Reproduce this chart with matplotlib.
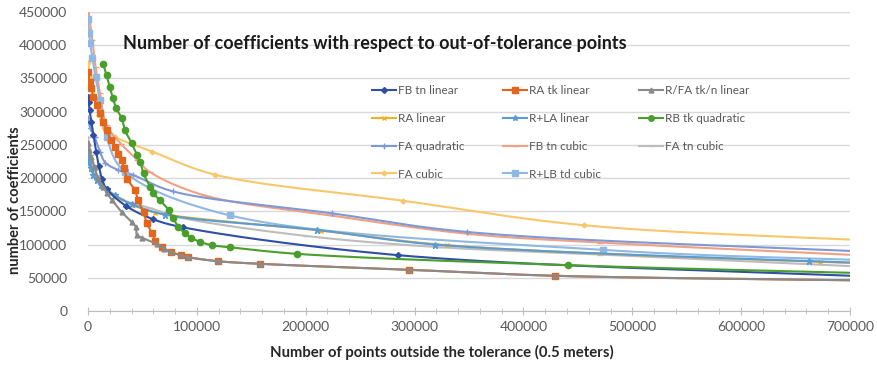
import numpy as np
import matplotlib.pyplot as plt
from matplotlib.lines import Line2D
from matplotlib.ticker import MultipleLocator

plt.rcParams['font.family'] = ['Lato', 'DejaVu Sans']

# points outside tolerance (x) and number of coefficients (y) for each run
fb_tn_lin_x = [0, 500, 1500, 3000, 5000, 7500, 10000, 13000, 17000, 35000, 60000, 87000, 285000, 760000]
fb_tn_lin_y = [322000, 315000, 302000, 285000, 265000, 240000, 218000, 198000, 184000, 158000, 138000, 126000, 84000, 49000]

ra_tk_lin_x = [0, 1500, 3000, 5000, 8000, 11000, 14000, 17000, 21000, 25000, 28000, 31000, 33000, 36000,
               43000, 46000, 51000, 54000, 59000, 62000, 68000, 76000, 85000, 92000, 119000, 158000,
               295000, 429000, 760000]
ra_tk_lin_y = [360000, 345000, 335000, 322000, 310000, 298000, 285000, 272000, 258000, 247000, 236000,
               227000, 215000, 199000, 182000, 167000, 149000, 132000, 117000, 105000, 96000, 89000,
               84000, 81000, 75000, 71000, 62000, 53000, 45000]

rfa_lin_x = [0, 1000, 3000, 6000, 9000, 14000, 17000, 22000, 31000, 40000, 44000, 45000, 50000, 63000,
             70000, 76000, 85000, 92000, 119000, 158000, 295000, 429000, 760000]
rfa_lin_y = [253000, 243000, 232000, 217000, 200000, 187000, 178000, 167000, 149000, 134000, 126000,
             114000, 110000, 101000, 94000, 89000, 84000, 81000, 75000, 71000, 62000, 53000, 45000]

ra_lin_x = [0, 1500, 3500, 6000, 9000, 13000, 17000, 26000, 42000, 62000, 214000, 330000, 672000, 760000]
ra_lin_y = [228000, 221000, 212000, 203000, 195000, 188000, 182000, 172000, 159000, 148000, 121000, 99000, 74000, 70000]

rla_lin_x = [0, 1000, 2500, 5000, 8000, 12000, 17000, 25000, 40000, 71000, 210000, 319000, 662000, 760000]
rla_lin_y = [233000, 225000, 215000, 205000, 197000, 189000, 183000, 174000, 161000, 145000, 122000, 100000, 75000, 70000]

rb_quad_x = [14000, 17000, 20000, 23000, 26000, 31000, 34000, 40000, 45000, 48000, 51000, 57000, 60000,
             66000, 74000, 78000, 83000, 89000, 95000, 103000, 114000, 130000, 192000, 441000, 760000]
rb_quad_y = [372000, 355000, 337000, 320000, 305000, 290000, 272000, 253000, 235000, 224000, 207000,
             187000, 177000, 167000, 152000, 140000, 127000, 117000, 110000, 104000, 99000, 96000,
             86000, 69000, 55000]

fa_quad_x = [0, 2000, 6000, 11000, 16000, 28000, 41000, 78000, 224000, 348000, 760000]
fa_quad_y = [290000, 276000, 262000, 240000, 223000, 212000, 205000, 180000, 147000, 119000, 86000]

fb_tn_cub_x = [0, 4000, 7000, 11000, 17000, 30000, 45000, 57000, 107000, 222000, 350000, 470000, 760000]
fb_tn_cub_y = [458000, 408000, 367000, 328000, 280000, 252000, 228000, 209000, 174000, 144000, 116000, 103000, 80000]

fa_tn_cub_x = [0, 3000, 8000, 15000, 30000, 57000, 84000, 200000, 323000, 470000, 760000]
fa_tn_cub_y = [262000, 235000, 205000, 185000, 168000, 155000, 141000, 113000, 96000, 85000, 63000]

fa_cub_x = [0, 3000, 6000, 10000, 15000, 25000, 59000, 117000, 289000, 456000, 760000]
fa_cub_y = [373000, 350000, 322000, 295000, 275000, 262000, 240000, 205000, 166000, 129000, 103000]

rlb_cub_x = [0, 1000, 2000, 4000, 7000, 11000, 17000, 34000, 130000, 473000, 760000]
rlb_cub_y = [440000, 418000, 403000, 381000, 352000, 318000, 262000, 209000, 144000, 92000, 74000]

XMAX, YMAX = 700000, 450000


def smooth(x, y, n=30):
    # centripetal Catmull-Rom through the points, like a spreadsheet "smoothed line"
    p = np.column_stack([np.asarray(x, float) / XMAX * 2.1, np.asarray(y, float) / YMAX])
    p = np.vstack([2 * p[0] - p[1], p, 2 * p[-1] - p[-2]])
    out = [p[1]]
    for i in range(1, len(p) - 2):
        p0, p1, p2, p3 = p[i - 1], p[i], p[i + 1], p[i + 2]
        t0 = 0.0
        t1 = t0 + max(np.linalg.norm(p1 - p0), 1e-9) ** 0.5
        t2 = t1 + max(np.linalg.norm(p2 - p1), 1e-9) ** 0.5
        t3 = t2 + max(np.linalg.norm(p3 - p2), 1e-9) ** 0.5
        t = np.linspace(t1, t2, n)[1:, None]
        a1 = (t1 - t) / (t1 - t0) * p0 + (t - t0) / (t1 - t0) * p1
        a2 = (t2 - t) / (t2 - t1) * p1 + (t - t1) / (t2 - t1) * p2
        a3 = (t3 - t) / (t3 - t2) * p2 + (t - t2) / (t3 - t2) * p3
        b1 = (t2 - t) / (t2 - t0) * a1 + (t - t0) / (t2 - t0) * a2
        b2 = (t3 - t) / (t3 - t1) * a2 + (t - t1) / (t3 - t1) * a3
        c = (t2 - t) / (t2 - t1) * b1 + (t - t1) / (t2 - t1) * b2
        out.extend(c)
    out = np.array(out)
    return out[:, 0] * XMAX / 2.1, out[:, 1] * YMAX


series = [
    ('FB tn linear', fb_tn_lin_x, fb_tn_lin_y, '#2f4fa5', 'D', 3.0),
    ('RA linear', ra_lin_x, ra_lin_y, '#f2b01e', 'x', 3.5),
    ('FA quadratic', fa_quad_x, fa_quad_y, '#7f99d6', '+', 5.0),
    ('FA cubic', fa_cub_x, fa_cub_y, '#f9c76a', 'D', 2.5),
    ('RA tk linear', ra_tk_lin_x, ra_tk_lin_y, '#e2661e', 's', 5.0),
    ('R+LA linear', rla_lin_x, rla_lin_y, '#5b9bd5', '*', 4.5),
    ('FB tn cubic', fb_tn_cub_x, fb_tn_cub_y, '#f2a083', '_', 4.0),
    ('R+LB td cubic', rlb_cub_x, rlb_cub_y, '#8fb8e3', 's', 5.0),
    ('R/FA tk/n linear', rfa_lin_x, rfa_lin_y, '#8a8a8a', '^', 3.5),
    ('RB tk quadratic', rb_quad_x, rb_quad_y, '#4a9e2c', 'o', 4.5),
    ('FA tn cubic', fa_tn_cub_x, fa_tn_cub_y, '#bdbdbd', '_', 4.0),
]

# drawing order (later on top)
draw_order = ['FA tn cubic', 'FA cubic', 'FB tn cubic', 'FA quadratic', 'R+LB td cubic', 'RA linear',
              'R+LA linear', 'FB tn linear', 'RB tk quadratic', 'RA tk linear', 'R/FA tk/n linear']

fig = plt.figure(figsize=(8.78, 3.65), dpi=100)
ax = fig.add_axes([88 / 878, 1 - 311 / 365, 762 / 878, 299 / 365])

lookup = {s[0]: s for s in series}
for z, name in enumerate(draw_order):
    _, x, y, col, mk, ms = lookup[name]
    sx, sy = smooth(x, y)
    ax.plot(sx, sy, color=col, lw=1.5, zorder=3 + z, solid_capstyle='round')
    ax.plot(x, y, ls='none', marker=mk, ms=ms, color=col, mec=col, mew=1.0, zorder=3 + z)

handles = [Line2D([], [], color=c, lw=1.5, marker=m, ms=min(s, 4), mec=c) for _, _, _, c, m, s in series]
labels = [s[0] for s in series]
ax.legend(handles, labels, ncol=3, loc='upper left', bbox_to_anchor=(0.373, 0.755), frameon=False,
          fontsize=8.5, labelcolor='#595959', handlelength=2.0, handletextpad=0.2,
          columnspacing=3.25, labelspacing=1.42, borderaxespad=0, borderpad=0)

ax.set_xlim(0, XMAX)
ax.set_ylim(0, YMAX)
ax.xaxis.set_major_locator(MultipleLocator(100000))
ax.xaxis.set_minor_locator(MultipleLocator(20000))
ax.yaxis.set_major_locator(MultipleLocator(50000))
ax.grid(axis='y', color='#d9d9d9', lw=1.0, zorder=0)
ax.set_axisbelow(True)
for s in ['top', 'right', 'left']:
    ax.spines[s].set_visible(False)
ax.spines['bottom'].set_color('#bfbfbf')
ax.tick_params(axis='y', length=0, pad=15, labelsize=10, labelcolor='#595959')
ax.tick_params(axis='x', which='major', direction='inout', length=6, color='#bfbfbf',
               labelsize=10, labelcolor='#595959', pad=4)
ax.tick_params(axis='x', which='minor', direction='inout', length=4, color='#bfbfbf')

ax.text(0.046, 0.895, 'Number of coefficients with respect to out-of-tolerance points',
        transform=ax.transAxes, fontsize=13, fontweight='bold', color='#1a1a1a', va='center', ha='left')

fig.text(442 / 878, 1 - 352 / 365, 'Number of points outside the tolerance (0.5 meters)',
         fontsize=10.7, fontweight='bold', color='#262626', ha='center', va='center')
fig.text(15 / 878, 1 - 200 / 365, 'number of coefficients', rotation=90,
         fontsize=10.5, fontweight='bold', color='#262626', ha='center', va='center')

fig.savefig('out.png', dpi=100)
